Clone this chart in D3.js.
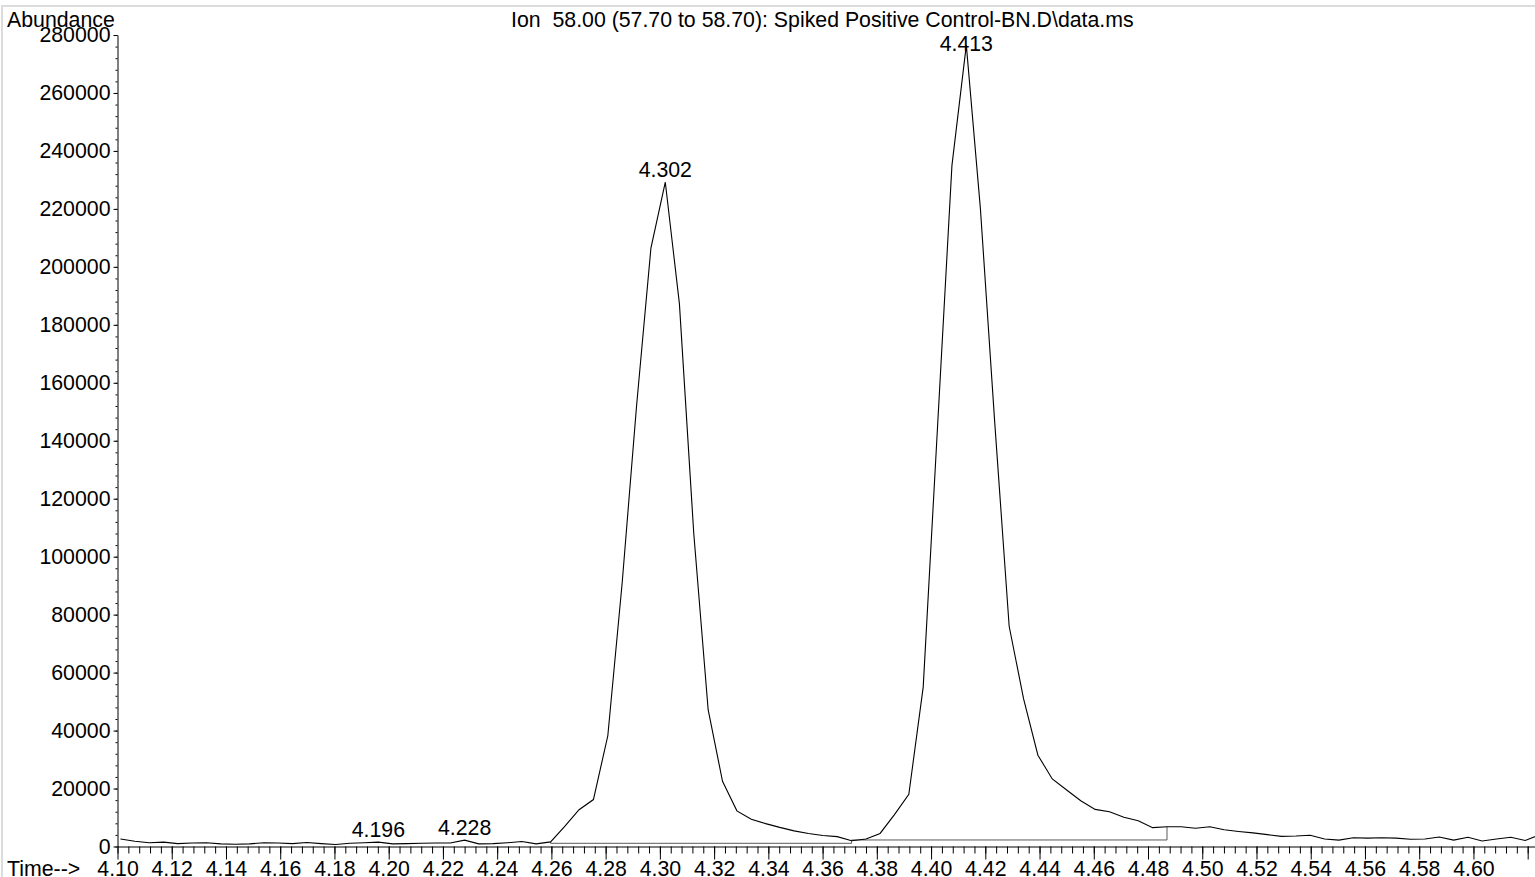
<!DOCTYPE html>
<html>
<head>
<meta charset="utf-8">
<script src="https://cdn.jsdelivr.net/npm/d3@7/dist/d3.min.js"></script>
<style>
    body { margin: 0; background: #fff; }
    svg text { font-family: "Liberation Sans", Arial, sans-serif; font-size: 21.3px; fill: #000; }
</style>
</head>
<body>
<svg id="chart" width="1535" height="877"></svg>
<script>
// Scan times (min) and ion 58 abundance
var scanTimes = [
    4.1011, 4.1064, 4.1117, 4.1170, 4.1222, 4.1275, 4.1328, 4.1381, 4.1434, 4.1487,
    4.1540, 4.1592, 4.1645, 4.1698, 4.1751, 4.1804, 4.1857, 4.1910, 4.1962, 4.2015,
    4.2068, 4.2121, 4.2174, 4.2227, 4.2280, 4.2332, 4.2385, 4.2438, 4.2491, 4.2544,
    4.2597, 4.2650, 4.2702, 4.2755, 4.2808, 4.2861, 4.2914, 4.2967, 4.3020, 4.3072,
    4.3125, 4.3178, 4.3231, 4.3284, 4.3337, 4.3390, 4.3442, 4.3495, 4.3548, 4.3601,
    4.3654, 4.3707, 4.3760, 4.3812, 4.3865, 4.3918, 4.3971, 4.4024, 4.4077, 4.4130,
    4.4182, 4.4235, 4.4288, 4.4341, 4.4394, 4.4447, 4.4500, 4.4552, 4.4605, 4.4658,
    4.4711, 4.4764, 4.4817, 4.4870, 4.4922, 4.4975, 4.5028, 4.5081, 4.5134, 4.5187,
    4.5240, 4.5292, 4.5345, 4.5398, 4.5451, 4.5504, 4.5557, 4.5610, 4.5662, 4.5715,
    4.5768, 4.5821, 4.5874, 4.5927, 4.5980, 4.6032, 4.6085, 4.6138, 4.6191, 4.6244
];
var abundance = [
    2600, 1800, 1300, 1500, 1000, 1200, 1300, 900, 800, 900,
    1300, 1200, 1000, 1400, 1000, 700, 1100, 1300, 1500, 900,
    1000, 1100, 1200, 1200, 2200, 900, 1000, 1300, 1700, 900,
    1600, 7000, 12700, 16200, 38200, 91000, 152000, 206500, 229200, 187300,
    108000, 47200, 22500, 12300, 9400, 7900, 6600, 5400, 4500, 3800,
    3400, 2000, 2600, 4500, 11000, 18000, 55000, 145000, 235000, 276500,
    220000, 146000, 76000, 51000, 31500, 23300, 19500, 15800, 12800, 12000,
    10100, 8900, 6500, 6800, 6800, 6300, 6800, 5800, 5200, 4700,
    4100, 3500, 3600, 3900, 2600, 2200, 3000, 2900, 3000, 2900,
    2500, 2600, 3300, 2200, 3200, 1900, 2600, 3200, 2100, 4000
];

// Peak apex labels
var peakLabels = ["4.196", "4.228", "4.302", "4.413"];
var peakScans = [18, 24, 38, 59];

// Integration baselines
var baseStart = [4.2597, 4.3707];
var baseEnd = [4.3707, 4.4870];
var baseLevel = [1100, 2250];

// Axis ticks
var yTicks = [0, 20000, 40000, 60000, 80000, 100000, 120000, 140000,
    160000, 180000, 200000, 220000, 240000, 260000, 280000];
var xTicks = [4.10, 4.12, 4.14, 4.16, 4.18, 4.20, 4.22, 4.24, 4.26, 4.28, 4.30,
    4.32, 4.34, 4.36, 4.38, 4.40, 4.42, 4.44, 4.46, 4.48, 4.50, 4.52, 4.54,
    4.56, 4.58, 4.60, 4.62];
var xTickLabels = ["4.10", "4.12", "4.14", "4.16", "4.18", "4.20", "4.22", "4.24",
    "4.26", "4.28", "4.30", "4.32", "4.34", "4.36", "4.38", "4.40", "4.42", "4.44",
    "4.46", "4.48", "4.50", "4.52", "4.54", "4.56", "4.58", "4.60", ""];

var titleText = "Ion  58.00 (57.70 to 58.70): Spiked Positive Control-BN.D\\data.ms";

// Chromatogram display
class ChromatogramRenderer {
    constructor() {
        this.svg = d3.select("#chart");
        this.x = d3.scaleLinear().domain([4.10, 4.6227]).range([117.5, 1535]);
        this.y = d3.scaleLinear().domain([0, 280000]).range([846.5, 35]);
    }

    render() {
        var x = this.x, y = this.y, svg = this.svg;
        svg.selectAll("*").remove();

        // Light frame round the page
        svg.append("rect")
            .attr("x", 2)
            .attr("y", 6)
            .attr("width", 1540)
            .attr("height", 880)
            .attr("fill", "none")
            .attr("stroke", "#dcdcdc")
            .attr("stroke-width", 2);

        // Minor ticks
        svg.append("g")
            .attr("transform", "translate(117.5,0)")
            .call(d3.axisLeft(y).tickValues(d3.range(0, 280001, 4000)).tickSize(2).tickFormat(""))
            .call(g => g.select(".domain").remove());
        svg.append("g")
            .attr("transform", "translate(0,846.5)")
            .call(d3.axisBottom(x).tickValues(d3.range(4.10, 4.6201, 0.004)).tickSize(7).tickFormat(""))
            .call(g => g.select(".domain").remove());

        // Y axis
        svg.append("g")
            .attr("transform", "translate(117.5,0)")
            .call(d3.axisLeft(y).tickValues(yTicks).tickSize(4).tickSizeOuter(0).tickPadding(3)
                .tickFormat(d3.format("d")))
            .call(g => g.selectAll("text").style("font-size", "21.3px").attr("fill", "#000"));

        // X axis
        svg.append("g")
            .attr("transform", "translate(0,846.5)")
            .call(d3.axisBottom(x).tickValues(xTicks).tickSize(13).tickSizeOuter(0).tickPadding(1.5)
                .tickFormat((d, i) => xTickLabels[i]))
            .call(g => g.selectAll("text").style("font-size", "21.3px").attr("fill", "#000"));

        // Integration baselines
        for (var i = 0; i < baseStart.length; i++) {
            var s0 = scanTimes.indexOf(baseStart[i]);
            var s1 = scanTimes.indexOf(baseEnd[i]);
            var pts = [
                [baseStart[i], abundance[s0]],
                [baseStart[i], baseLevel[i]],
                [baseEnd[i], baseLevel[i]],
                [baseEnd[i], abundance[s1]]
            ];
            svg.append("path")
                .attr("d", d3.line().x(d => x(d[0])).y(d => y(d[1]))(pts))
                .attr("fill", "none")
                .attr("stroke", "#5a5a5a")
                .attr("stroke-width", 1);
        }

        // Trace
        var series = scanTimes.map((t, i) => [t, abundance[i]]);
        svg.append("path")
            .attr("d", d3.line().x(d => x(d[0])).y(d => y(d[1]))(series))
            .attr("fill", "none")
            .attr("stroke", "#000")
            .attr("stroke-width", 1.1);

        // Peak labels
        for (var p = 0; p < peakLabels.length; p++) {
            var k = peakScans[p];
            svg.append("text")
                .attr("x", x(scanTimes[k]))
                .attr("y", Math.max(y(abundance[k]) - 5, 51))
                .attr("text-anchor", "middle")
                .attr("fill", "#222")
                .text(peakLabels[p]);
        }

        // Titles
        svg.append("text")
            .attr("x", 7)
            .attr("y", 27)
            .text("Abundance");
        svg.append("text")
            .attr("x", 511)
            .attr("y", 27)
            .style("white-space", "pre")
            .text(titleText);
        svg.append("text")
            .attr("x", 7)
            .attr("y", 876)
            .text("Time-->");
    }
}

var renderer = new ChromatogramRenderer();
renderer.render();
</script>
</body>
</html>
